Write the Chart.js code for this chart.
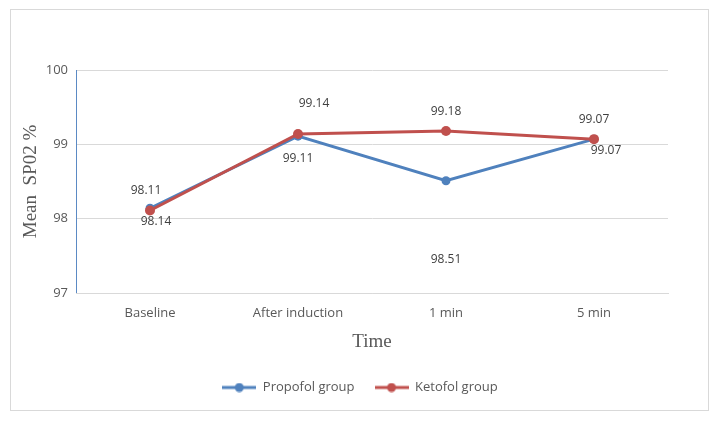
<!DOCTYPE html>
<html lang="en">
  <head>
    <meta charset="UTF-8" />
    <title>Mean SpO2</title>
    <script src="https://cdn.jsdelivr.net/npm/chart.js"></script>
    <style>
      body {
        margin: 0;
        background: #fff;
      }
      .wrap {
        position: relative;
        width: 720px;
        height: 422px;
      }
      .frame {
        position: absolute;
        left: 10px;
        top: 9px;
        width: 697px;
        height: 400px;
        border: 1px solid #d9d9d9;
      }
      canvas {
        position: absolute;
        left: 0;
        top: 0;
      }
    </style>
  </head>
  <body>
    <div class="wrap">
      <div class="frame"></div>
      <canvas id="chart" width="720" height="422"></canvas>
    </div>
    <script>
      const timePoints = ["Baseline", "After induction", "1 min", "5 min"];
      const propofol = [98.14, 99.11, 98.51, 99.07];
      const ketofol = [98.11, 99.14, 99.18, 99.07];
      const yTicks = [97, 98, 99, 100];

      const blue = "#4f81bd";
      const red = "#c0504d";
      const textCol = "#595959";

      // little line + dot swatch for the legend
      function swatch(color) {
        const c = document.createElement("canvas");
        c.width = 34;
        c.height = 10;
        const g = c.getContext("2d");
        g.strokeStyle = color;
        g.lineWidth = 3;
        g.beginPath();
        g.moveTo(0, 5);
        g.lineTo(34, 5);
        g.stroke();
        g.fillStyle = color;
        g.beginPath();
        g.arc(17, 5, 4.5, 0, Math.PI * 2);
        g.fill();
        return c;
      }

      // label offsets (dx, dy) per dataset, per point
      const labelShift = {
        0: [[6, 13], [0, 22], [0, 79], [12, 11]],
        1: [[-4, -20], [16, -30], [0, -19], [0, -20]],
      };

      const valueLabels = {
        id: "valueLabels",
        afterDatasetsDraw(chart) {
          const { ctx } = chart;
          ctx.save();
          ctx.font = "12px 'Open Sans'";
          ctx.fillStyle = "#404040";
          ctx.textAlign = "center";
          ctx.textBaseline = "middle";
          chart.data.datasets.forEach((ds, i) => {
            chart.getDatasetMeta(i).data.forEach((pt, j) => {
              const [dx, dy] = labelShift[i][j];
              ctx.fillText(ds.data[j].toFixed(2), pt.x + dx, pt.y + dy);
            });
          });
          ctx.restore();
        },
      };

      // legend is centred on the whole frame, not just the plot
      const nudgeLegend = {
        id: "nudgeLegend",
        afterLayout(chart) {
          chart.legend.left += 20;
          chart.legend.right += 20;
        },
      };

      new Chart(document.getElementById("chart"), {
        type: "line",
        data: {
          labels: timePoints,
          datasets: [
            {
              label: "Propofol group",
              data: propofol,
              borderColor: blue,
              backgroundColor: blue,
              borderWidth: 3,
              pointRadius: 4.5,
              pointBorderWidth: 0,
              order: 1,
            },
            {
              label: "Ketofol group",
              data: ketofol,
              borderColor: red,
              backgroundColor: red,
              borderWidth: 3,
              pointRadius: 5,
              pointBorderWidth: 0,
              order: 0,
            },
          ],
        },
        options: {
          responsive: false,
          animation: false,
          layout: {
            padding: { left: 12, right: 52, top: 70, bottom: 18 },
          },
          scales: {
            y: {
              min: 97,
              max: 100,
              afterBuildTicks(scale) {
                scale.ticks = yTicks.map((v) => ({ value: v }));
              },
              afterFit(scale) {
                scale.width = 64;
              },
              ticks: {
                color: textCol,
                font: { family: "'Open Sans'", size: 13 },
                padding: 8,
              },
              grid: { color: "#d9d9d9", drawTicks: false },
              border: { color: "#5b8ac4" },
              title: {
                display: true,
                text: "Mean  SP02 %",
                color: textCol,
                font: { family: "'Liberation Serif'", size: 19 },
                padding: { top: 8, bottom: 0 },
              },
            },
            x: {
              offset: true,
              afterFit(scale) {
                scale.height = 68;
              },
              ticks: {
                color: textCol,
                font: { family: "'Open Sans'", size: 13 },
                padding: 4,
              },
              grid: { display: false, offset: true },
              border: { color: "#d9d9d9" },
              title: {
                display: true,
                text: "Time",
                color: textCol,
                font: { family: "'Liberation Serif'", size: 19 },
                padding: { top: 4, bottom: 8 },
              },
            },
          },
          plugins: {
            tooltip: { enabled: false },
            legend: {
              position: "bottom",
              labels: {
                usePointStyle: true,
                pointStyleWidth: 34,
                color: textCol,
                font: { family: "'Open Sans'", size: 13 },
                padding: 20,
                sort: (a, b) => a.datasetIndex - b.datasetIndex,
                generateLabels(chart) {
                  const items =
                    Chart.defaults.plugins.legend.labels.generateLabels(chart);
                  items.forEach((it) => {
                    it.pointStyle = swatch(
                      chart.data.datasets[it.datasetIndex].borderColor
                    );
                  });
                  return items;
                },
              },
            },
          },
        },
        plugins: [valueLabels, nudgeLegend],
      });
    </script>
  </body>
</html>
